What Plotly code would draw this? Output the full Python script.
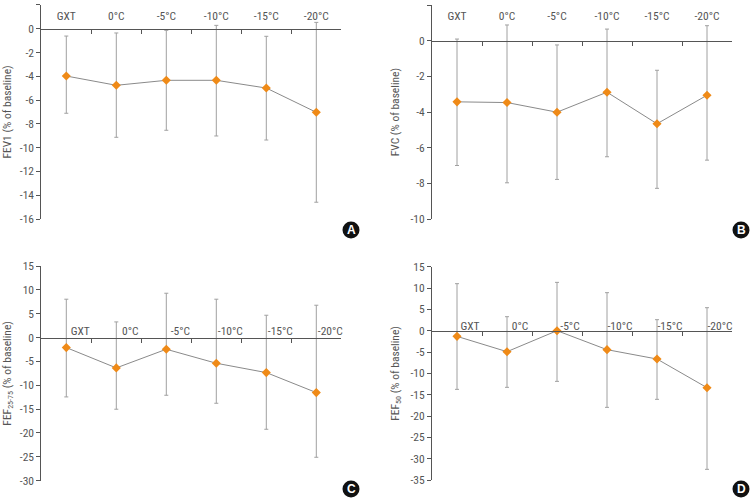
import plotly.graph_objects as go

categories = ["GXT", "0°C", "-5°C", "-10°C", "-15°C", "-20°C"]

# Panel A: FEV1
fev1_mean = [-3.98, -4.76, -4.34, -4.34, -4.99, -7.03]
fev1_upper = [-0.62, -0.36, -0.14, 0.28, -0.64, 0.53]
fev1_lower = [-7.11, -9.13, -8.54, -9.02, -9.36, -14.59]

# Panel B: FVC
fvc_mean = [-3.43, -3.47, -4.01, -2.89, -4.66, -3.06]
fvc_upper = [0.09, 0.88, -0.24, 0.65, -1.66, 0.84]
fvc_lower = [-7.00, -7.97, -7.78, -6.51, -8.28, -6.70]

# Panel C: FEF25-75
fef2575_mean = [-2.10, -6.36, -2.45, -5.38, -7.34, -11.53]
fef2575_upper = [8.04, 3.28, 9.29, 8.04, 4.68, 6.78]
fef2575_lower = [-12.44, -15.02, -12.09, -13.77, -19.22, -25.09]

# Panel D: FEF50
fef50_mean = [-1.33, -4.92, 0.0, -4.45, -6.64, -13.36]
fef50_upper = [11.02, 3.28, 11.33, 8.91, 2.58, 5.39]
fef50_lower = [-13.75, -13.28, -11.88, -17.97, -16.09, -32.50]

tick_a = [2, 0, -2, -4, -6, -8, -10, -12, -14, -16]
tick_b = [2, 0, -2, -4, -6, -8, -10]
tick_c = [15, 10, 5, 0, -5, -10, -15, -20, -25, -30]
tick_d = [15, 10, 5, 0, -5, -10, -15, -20, -25, -30, -35]

titles = ["FEV1 (% of baseline)", "FVC (% of baseline)",
          "FEF<sub>25-75</sub> (% of baseline)", "FEF<sub>50</sub> (% of baseline)"]
letters = ["A", "B", "C", "D"]

W, H = 750, 500
FONT = "Liberation Sans Narrow, Roboto Condensed, Arial Narrow, Roboto, sans-serif"

panels = [
    dict(mean=fev1_mean, up=fev1_upper, lo=fev1_lower, ticks=tick_a,
         xpx=(41.3, 341.3), ypx=(4.9, 219.0), standoff=4, shift=0, letter=(351, 230)),
    dict(mean=fvc_mean, up=fvc_upper, lo=fvc_lower, ticks=tick_b,
         xpx=(432.0, 732.0), ypx=(5.0, 219.0), standoff=16, shift=0, letter=(741, 230)),
    dict(mean=fef2575_mean, up=fef2575_upper, lo=fef2575_lower, ticks=tick_c,
         xpx=(41.3, 341.3), ypx=(266.0, 480.7), standoff=-2, shift=14, letter=(351, 489)),
    dict(mean=fef50_mean, up=fef50_upper, lo=fef50_lower, ticks=tick_d,
         xpx=(432.0, 732.0), ypx=(266.7, 480.0), standoff=-4, shift=13, letter=(741, 489)),
]

fig = go.Figure()
layout = {}
shapes = []
annotations = []

for i, p in enumerate(panels):
    n = "" if i == 0 else str(i + 1)
    err_plus = [u - m for u, m in zip(p["up"], p["mean"])]
    err_minus = [m - l for m, l in zip(p["mean"], p["lo"])]
    fig.add_trace(go.Scatter(
        x=categories, y=p["mean"], mode="lines+markers",
        xaxis="x" + n, yaxis="y" + n, showlegend=False,
        line=dict(color="#8a8a8a", width=1),
        marker=dict(symbol="diamond", size=7, color="#ef8a17"),
        error_y=dict(type="data", symmetric=False, array=err_plus, arrayminus=err_minus,
                     color="#a0a0a0", thickness=1, width=2),
    ))
    ymax, ymin = p["ticks"][0], p["ticks"][-1]
    xd = [p["xpx"][0] / W, p["xpx"][1] / W]
    yd = [1 - p["ypx"][1] / H, 1 - p["ypx"][0] / H]
    zero_pos = yd[0] + (0 - ymin) / (ymax - ymin) * (yd[1] - yd[0])
    layout["xaxis" + n] = dict(
        domain=xd, type="category", range=[-0.5, 5.5], anchor="free", position=zero_pos,
        side="top", tickson="boundaries", ticks="inside", ticklen=4, tickcolor="#555",
        showline=True, linecolor="#555", linewidth=1, showgrid=False, zeroline=False,
        ticklabelstandoff=p["standoff"], ticklabelshift=p["shift"], automargin=False,
        tickfont=dict(family=FONT, size=11.5, color="#555"), fixedrange=True,
    )
    layout["yaxis" + n] = dict(
        domain=yd, range=[ymin, ymax], anchor="x" + n, automargin=False,
        tickvals=p["ticks"], ticktext=[str(t) for t in p["ticks"]],
        ticks="outside", ticklen=4, tickcolor="#555",
        showline=True, linecolor="#555", linewidth=1, showgrid=False, zeroline=False,
        tickfont=dict(family=FONT, size=11.5, color="#555"), fixedrange=True,
        title=dict(text=titles[i], font=dict(family=FONT, size=11.5, color="#555"), standoff=8),
    )
    cx, cy = p["letter"]
    r = 8.5
    shapes.append(dict(type="circle", xref="paper", yref="paper",
                       x0=(cx - r) / W, x1=(cx + r) / W, y0=1 - (cy + r) / H, y1=1 - (cy - r) / H,
                       fillcolor="#111", line=dict(width=0)))
    annotations.append(dict(text="<b>" + letters[i] + "</b>", xref="paper", yref="paper",
                            x=cx / W, y=1 - cy / H, showarrow=False, xanchor="center", yanchor="middle",
                            font=dict(family="Liberation Sans, Arial, sans-serif", size=12, color="white")))

fig.update_layout(
    width=W, height=H, margin=dict(l=0, r=0, t=0, b=0, autoexpand=False),
    paper_bgcolor="white", plot_bgcolor="white",
    shapes=shapes, annotations=annotations, **layout,
)

fig.write_html("out.html", config={"displayModeBar": False},
               post_script="document.body.style.margin='0';")
